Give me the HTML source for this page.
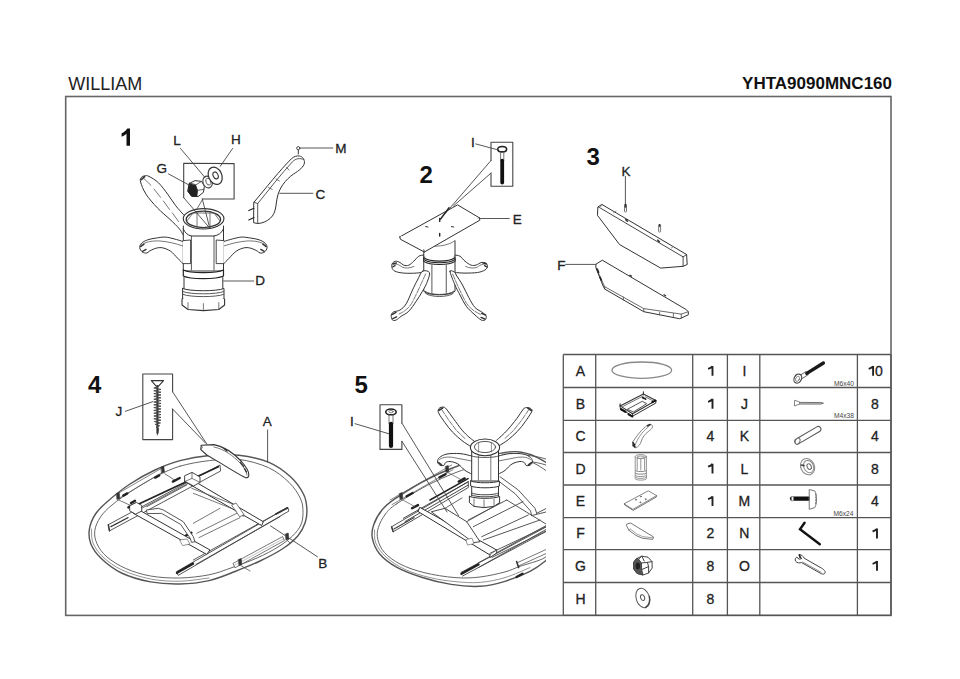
<!DOCTYPE html>
<html><head><meta charset="utf-8">
<style>
html,body{margin:0;padding:0;background:#fff;}
body{width:960px;height:679px;position:relative;overflow:hidden;font-family:"Liberation Sans",sans-serif;color:#1a1a1a;}
.t{position:absolute;white-space:nowrap;line-height:1;}
#title{left:68.2px;top:74.6px;font-size:18px;color:#222;}
#code{right:68px;top:75.2px;font-size:17px;font-weight:bold;color:#111;}
svg{position:absolute;left:0;top:0;}
</style></head><body>
<div class="t" id="title">WILLIAM</div>
<div class="t" id="code">YHTA9090MNC160</div>
<svg width="960" height="679" viewBox="0 0 960 679" font-family="Liberation Sans, sans-serif">
<rect x="65.7" y="96.5" width="825.3" height="518.9" fill="none" stroke="#666" stroke-width="1.6"/>

<g id="table" stroke="#555" stroke-width="1.3" fill="none">
<line x1="563.3" y1="354.5" x2="891.0" y2="354.5"/>
<line x1="563.3" y1="387.5" x2="891.0" y2="387.5"/>
<line x1="563.3" y1="420.3" x2="891.0" y2="420.3"/>
<line x1="563.3" y1="452.5" x2="891.0" y2="452.5"/>
<line x1="563.3" y1="485.0" x2="891.0" y2="485.0"/>
<line x1="563.3" y1="517.6" x2="891.0" y2="517.6"/>
<line x1="563.3" y1="549.6" x2="891.0" y2="549.6"/>
<line x1="563.3" y1="582.5" x2="891.0" y2="582.5"/>
<line x1="563.3" y1="615.4" x2="891.0" y2="615.4"/>
<line x1="563.3" y1="354.5" x2="563.3" y2="615.4"/>
<line x1="595.7" y1="354.5" x2="595.7" y2="615.4"/>
<line x1="692.7" y1="354.5" x2="692.7" y2="615.4"/>
<line x1="727.4" y1="354.5" x2="727.4" y2="615.4"/>
<line x1="759.8" y1="354.5" x2="759.8" y2="615.4"/>
<line x1="857.4" y1="354.5" x2="857.4" y2="615.4"/>
<line x1="891.0" y1="354.5" x2="891.0" y2="615.4"/>
</g>
<g font-size="14" fill="#222" stroke="#222" stroke-width="0.3" text-anchor="middle">
<text x="580.5" y="375.8">A</text>
<path d="M712.5,375.8 L712.5,365.9 M712.5,366.2 C711.5,367.6 709.9,368.4 708.1,368.9" fill="none" stroke="#222" stroke-width="1.9" stroke-linecap="butt"/>
<text x="744.4" y="375.8">I</text>
<path d="M873.1,375.8 L873.1,365.9 M873.1,366.2 C872.1,367.6 870.5,368.4 868.7,368.9" fill="none" stroke="#222" stroke-width="1.9" stroke-linecap="butt"/>
<text x="878.9" y="375.8">0</text>
<text x="580.5" y="408.7">B</text>
<path d="M712.5,408.7 L712.5,398.8 M712.5,399.1 C711.5,400.5 709.9,401.3 708.1,401.8" fill="none" stroke="#222" stroke-width="1.9" stroke-linecap="butt"/>
<text x="744.4" y="408.7">J</text>
<text x="875.0" y="408.7">8</text>
<text x="580.5" y="441.2">C</text>
<text x="710.5" y="441.2">4</text>
<text x="744.4" y="441.2">K</text>
<text x="875.0" y="441.2">4</text>
<text x="580.5" y="473.6">D</text>
<path d="M712.5,473.6 L712.5,463.7 M712.5,463.9 C711.5,465.4 709.9,466.2 708.1,466.7" fill="none" stroke="#222" stroke-width="1.9" stroke-linecap="butt"/>
<text x="744.4" y="473.6">L</text>
<text x="875.0" y="473.6">8</text>
<text x="580.5" y="506.1">E</text>
<path d="M712.5,506.1 L712.5,496.2 M712.5,496.5 C711.5,497.9 709.9,498.7 708.1,499.2" fill="none" stroke="#222" stroke-width="1.9" stroke-linecap="butt"/>
<text x="744.4" y="506.1">M</text>
<text x="875.0" y="506.1">4</text>
<text x="580.5" y="538.4">F</text>
<text x="710.5" y="538.4">2</text>
<text x="744.4" y="538.4">N</text>
<path d="M877.0,538.4 L877.0,528.5 M877.0,528.8 C876.0,530.2 874.4,531.0 872.6,531.5" fill="none" stroke="#222" stroke-width="1.9" stroke-linecap="butt"/>
<text x="580.5" y="570.8">G</text>
<text x="710.5" y="570.8">8</text>
<text x="744.4" y="570.8">O</text>
<path d="M877.0,570.8 L877.0,560.9 M877.0,561.2 C876.0,562.6 874.4,563.4 872.6,563.9" fill="none" stroke="#222" stroke-width="1.9" stroke-linecap="butt"/>
<text x="580.5" y="603.8">H</text>
<text x="710.5" y="603.8">8</text>
</g>
<g id="icons" fill="none" stroke-linejoin="round" stroke-linecap="round">
<!-- A tabletop -->
<ellipse cx="641.8" cy="370.2" rx="29.8" ry="8.2" stroke="#888" stroke-width="1.3"/>
<!-- B frame -->
<g stroke="#333" stroke-width="1.1">
<path d="M620.1,405.9 L643.4,394 L655.9,400.5 L632.6,413.8 Z" fill="#fff"/>
<path d="M620.1,405.9 L620.3,408.4 L632.6,416.2 L655.9,403 L655.9,400.5 M632.6,413.8 L632.6,416.2" fill="none" stroke-width="1"/>
<path d="M627.7,409.1 L642.3,401.3 L646.7,403.7 L633.7,411.8 Z" fill="#fff" stroke="#444" stroke-width="0.9"/>
<path d="M622.6,406.6 L643.6,395.8 M645.4,396.8 L653.6,401.2" fill="none" stroke="#555" stroke-width="0.8"/>
<path d="M643.4,394 L643.4,391.8 M620.1,405.9 L620.1,403.8" stroke-width="1.1"/>
<path d="M621,409.2 L625.4,411.8" stroke="#111" stroke-width="2.2"/>
<path d="M628.6,414.4 L632.2,416.4" stroke="#111" stroke-width="2.2"/>
<path d="M652.2,402.2 L655.4,400.6" stroke="#111" stroke-width="2"/>
<path d="M642.6,397.6 L645.6,399" stroke="#222" stroke-width="1.8"/>
</g>
<!-- C leg -->
<g stroke="#777" stroke-width="0.9">
<path d="M633,441.6 C636,437 640.2,431 645.6,426.6 C648,424.6 651,423.8 652.4,425.6 C653.2,427.6 651,429.6 648.2,431.6 C645,434 642.4,437.4 641.4,441 C640.6,444.2 638.2,447 635.6,447.8 L633,446.4 Z" fill="#fff"/>
<path d="M634.6,446.8 C635.6,443 638.5,437.2 642,433.2 C644.2,430.4 647,428.2 649.8,425.2" stroke-width="0.8"/>
<path d="M633,442.6 L634.4,444.6 M633.2,445 L635,447" stroke="#222" stroke-width="1.6"/>
<path d="M647.5,425.8 L650.2,424.6" stroke="#333" stroke-width="1.6"/>
</g>
<!-- D column -->
<g stroke="#888" stroke-width="0.9">
<path d="M635.2,456.6 L635.2,478.6 C635.2,480.6 646.4,480.6 646.4,478.6 L646.4,456.6" fill="#fff"/>
<ellipse cx="640.8" cy="456.6" rx="5.6" ry="2" fill="#fff"/>
<ellipse cx="640.8" cy="457.2" rx="3.8" ry="1.2"/>
<path d="M637.2,458.6 L637.2,470 M644.6,458.6 L644.6,470 M640.8,459 L640.8,470"/>
<path d="M635.2,470.6 C635.2,472 646.4,472 646.4,470.6 M635.2,473.2 C635.2,474.6 646.4,474.6 646.4,473.2" stroke="#777"/>
<path d="M635.4,475.6 C635.4,477 646.2,477 646.2,475.6 M635.4,477.4 C635.4,478.8 646.2,478.8 646.2,477.4" stroke="#888"/>
</g>
<!-- E plate -->
<g stroke="#777" stroke-width="0.9">
<path d="M624.4,503.6 L648.3,490.8 L656.6,495.6 L633.2,509.2 Z" fill="#fff"/>
<path d="M624.4,503.6 L624.5,504.8 L633.2,510.4 L656.6,496.8 L656.6,495.6" stroke="#666"/>
<circle cx="635.9" cy="499.7" r="0.5" fill="#555"/><circle cx="640.8" cy="496.6" r="0.5" fill="#555"/>
<circle cx="645.6" cy="499.2" r="0.5" fill="#555"/><circle cx="640.3" cy="502.3" r="0.5" fill="#555"/>
</g>
<!-- F bracket -->
<g stroke="#666" stroke-width="0.9">
<path d="M627,524.1 L630.6,523 L653.6,537 L652.7,539.4 L642.1,538.2 L635.9,535.4 L628.8,530.2 L626.6,525.8 Z" fill="#fff"/>
<path d="M628.8,530.2 L630,528.8 L636.6,533.8 L642.6,536.6 L652.6,537.8" stroke="#777" stroke-width="0.7"/>
</g>
<!-- G nut -->
<g stroke="#444" stroke-width="1">
<path d="M636.6,558.6 L641.8,556.2 L648,557.2 L652,561.6 L652.2,568 L648.6,573 L643,575 L637,573.4 L633.8,569 L633.6,562.6 Z" fill="#fff"/>
<path d="M636.6,558.6 L633.6,562.6 L633.8,569 L637,573.4 L643,575 L641.6,569.6 L641.4,563 L638.6,559.2 Z" fill="#555"/>
<path d="M641.4,563 L647.4,562.4 L648.6,566.6 M641.6,569.6 L648.6,566.6 L648.6,573 M647.4,562.4 L652,561.6 M641.8,556.2 L644.2,561 M638.6,559.2 L641.8,556.2"/>
<ellipse cx="637.8" cy="566" rx="2.2" ry="3.4" fill="#222" stroke="none"/>
</g>
<!-- H washer -->
<g stroke="#555" stroke-width="1">
<ellipse cx="642.8" cy="598" rx="6.6" ry="10" transform="rotate(-18 642.8 598)" fill="#fff"/>
<ellipse cx="642.6" cy="597.6" rx="2" ry="3" transform="rotate(-18 642.6 597.6)"/>
<path d="M645.6,607.4 C648.5,605.5 650.2,601 649.4,596.4" stroke-width="1.4" stroke="#444"/>
</g>
<!-- I bolt -->
<g>
<path d="M800.6,377.2 L807.6,372.8" stroke="#666" stroke-width="4.6" stroke-linecap="butt"/>
<path d="M800.6,377.2 L807.6,372.8" stroke="#fff" stroke-width="2.8" stroke-linecap="butt"/>
<path d="M806.8,373.4 L823.4,363" stroke="#1a1a1a" stroke-width="3.4"/>
<ellipse cx="797.8" cy="378.6" rx="3.6" ry="4.8" transform="rotate(28 797.8 378.6)" fill="#fff" stroke="#444" stroke-width="1.2"/>
<ellipse cx="797.6" cy="378.8" rx="1.8" ry="2.8" transform="rotate(28 797.6 378.8)" fill="none" stroke="#777" stroke-width="0.8"/>
</g>
<!-- J screw -->
<g fill="none">
<path d="M794.6,400.6 L794.4,406 L799.6,404 L799.6,402.4 Z" fill="#fff" stroke="#777" stroke-width="0.9"/>
<path d="M799.6,402.4 L821,402.6 L823.4,403.2 L821,404 L799.6,404" fill="#fff" stroke="#555" stroke-width="0.9"/>
<path d="M801,403.2 L821,403.2" stroke="#999" stroke-width="0.8" stroke-dasharray="0.8 0.8"/>
</g>
<!-- K dowel -->
<g>
<path d="M797.5,441.3 L818.2,429.2" stroke="#555" stroke-width="6.4" stroke-linecap="round"/>
<path d="M797.5,441.3 L818.2,429.2" stroke="#fff" stroke-width="4.4" stroke-linecap="round"/>
<ellipse cx="797.6" cy="441.2" rx="2.2" ry="3.2" transform="rotate(30 797.6 441.2)" fill="#fff" stroke="#666" stroke-width="0.9"/>
</g>
<!-- L washer/nut -->
<g stroke="#888" stroke-width="1">
<ellipse cx="807.6" cy="466.6" rx="6.8" ry="8.4" transform="rotate(-25 807.6 466.6)" fill="#fff"/>
<ellipse cx="808.6" cy="466.6" rx="4.8" ry="6.4" transform="rotate(-25 808.6 466.6)"/>
<ellipse cx="809.2" cy="466.6" rx="2" ry="3" transform="rotate(-25 809.2 466.6)" stroke="#666"/>
<path d="M801.4,465 L804,465.6" stroke="#444" stroke-width="1.6"/>
</g>
<!-- M bolt -->
<g>
<path d="M792,498.6 L809.6,498.6" stroke="#111" stroke-width="4.4"/>
<path d="M791.6,496.6 L793.4,496.6 L793.4,500.8 L791.6,500.8 Z" fill="#fff" stroke="#888" stroke-width="0.7"/>
<path d="M809.6,489.6 L814.8,491 C816.8,494 817.4,503 814.8,507.6 L809.6,509.2 Z" fill="#fff" stroke="#777" stroke-width="1"/>
<path d="M815.8,494 L815.8,504" stroke="#666" stroke-width="1" stroke-dasharray="1.2 1.6"/>
</g>
<!-- N allen key -->
<path d="M804.6,522.8 L800,529.2 L819.8,544.2" fill="none" stroke="#111" stroke-width="2.4" stroke-linejoin="miter" stroke-linecap="round"/>
<!-- O wrench -->
<g stroke="#444" stroke-width="1">
<path d="M799.5,556.2 L799.2,554.8 C801.8,554.6 803,556 804.2,558.2 L821.6,568.2 C825,570.2 826,572.4 824.6,573.6 C823.4,574.6 821.8,574 820,573 L801.6,562.6 C799.6,563.2 796.8,563 795.6,561.2 C794.6,559.6 795.6,557.6 796.8,557.2 L799.2,559.2 L801.6,558.6 Z" fill="#fff"/>
<path d="M802.8,562 L821,572.2" stroke="#777" stroke-width="0.8"/>
<path d="M799.4,554.8 L800.2,557.4" stroke="#222" stroke-width="1.6"/>
</g>
<!-- size labels -->
<g font-size="6.6" fill="#444" text-anchor="end">
<text x="854" y="385.6" textLength="20" lengthAdjust="spacingAndGlyphs">M6x40</text>
<text x="854" y="418" textLength="20" lengthAdjust="spacingAndGlyphs">M4x38</text>
<text x="853.4" y="515.8" textLength="20" lengthAdjust="spacingAndGlyphs">M6x24</text>
</g>
</g>

<g id="step1" fill="none" stroke-linecap="round" stroke-linejoin="round">
<path d="M184.0,236.0 C183.8,235.6 183.3,235.1 182.5,233.8 C181.7,232.6 181.2,230.9 179.1,228.5 C177.0,226.1 173.6,222.8 170.0,219.4 C166.4,216.0 161.4,212.1 157.4,207.9 C153.4,203.7 148.8,198.5 146.0,194.2 C143.2,189.9 141.4,184.8 140.6,182.0 C139.8,179.2 140.5,178.6 141.2,177.6 C141.9,176.6 143.3,176.0 144.6,175.8 C145.9,175.6 146.7,175.2 149.0,176.4 C151.3,177.6 155.4,179.8 158.5,182.8 C161.6,185.8 164.8,190.4 167.7,194.2 C170.6,198.0 173.0,202.3 175.7,205.7 C178.4,209.1 181.8,212.8 183.7,214.8 C185.6,216.9 186.4,217.5 187.0,218.0" fill="#fff" stroke="#333" stroke-width="1"/>
<path d="M144,178.6 L151,185.4 M154,189 L160.6,197.4 M163.4,201 L169.6,209.6 M172.4,213 L178.6,221.6" stroke="#555" stroke-width="0.8"/>
<path d="M141.4,179.6 L144.6,176.6" stroke="#333" stroke-width="1.6"/>
<path d="M183.0,241.5 C181.5,241.1 177.1,239.6 174.2,238.9 C171.2,238.2 168.2,237.2 165.3,237.1 C162.4,236.9 159.4,237.6 156.5,238.0 C153.6,238.4 150.2,238.9 147.7,239.8 C145.2,240.7 142.8,242.0 141.5,243.3 C140.2,244.6 139.5,246.2 139.7,247.7 C139.8,249.2 141.2,251.2 142.4,252.1 C143.6,253.0 145.6,253.2 146.8,253.0 C148.0,252.8 148.1,251.9 149.4,251.2 C150.7,250.5 152.6,249.2 154.7,248.6 C156.8,248.0 159.2,247.3 161.8,247.7 C164.5,248.1 167.9,249.4 170.6,251.2 C173.2,253.0 175.6,256.2 177.7,258.3 C179.8,260.4 182.1,262.7 183.0,263.6" fill="#fff" stroke="#333" stroke-width="1"/>
<path d="M141,245 C146,241.6 153,240.6 160,241 C168,241.6 176,243.6 183,246" stroke="#555" stroke-width="0.8"/>
<path d="M140.6,246.6 L144,244.2 M142.6,251.4 L146,249.4" stroke="#333" stroke-width="1.4"/>
<path d="M223.8,241.5 C225.3,241.1 229.7,239.6 232.6,238.9 C235.6,238.2 238.6,237.2 241.5,237.1 C244.4,236.9 247.4,237.6 250.3,238.0 C253.2,238.4 256.6,238.9 259.1,239.8 C261.6,240.7 264.0,242.0 265.3,243.3 C266.6,244.6 267.2,246.2 267.1,247.7 C267.0,249.2 265.6,251.2 264.4,252.1 C263.2,253.0 261.2,253.2 260.0,253.0 C258.8,252.8 258.7,251.9 257.4,251.2 C256.1,250.5 254.2,249.2 252.1,248.6 C250.0,248.0 247.7,247.3 245.0,247.7 C242.3,248.1 238.9,249.4 236.2,251.2 C233.6,253.0 231.2,256.2 229.1,258.3 C227.0,260.4 224.7,262.7 223.8,263.6" fill="#fff" stroke="#333" stroke-width="1"/>
<path d="M265.8,245 C260.8,241.6 253.8,240.6 246.8,241 C238.8,241.6 230.8,243.6 223.8,246" stroke="#555" stroke-width="0.8"/>
<path d="M266.2,246.6 L262.8,244.2 M264.2,251.4 L260.8,249.4" stroke="#333" stroke-width="1.4"/>
<path d="M183.3,226 L183.3,271 L223.5,271 L223.5,226" fill="#fff" stroke="#333" stroke-width="1"/>
<path d="M191.4,236 L191.4,270 M214,236 L214,270" stroke="#444" stroke-width="0.9"/>
<path d="M183.3,229 C185,233 188,235.4 191.4,236 L214,236 C218,235.4 221.8,233 223.5,229" fill="none" stroke="#333" stroke-width="1"/>
<path d="M183,240.6 L190.6,240 L190.6,263.6 L183,263.6" fill="#fff" stroke="#333" stroke-width="0.9"/>
<path d="M223.8,240.6 L216.2,240 L216.2,263.6 L223.8,263.6" fill="#fff" stroke="#333" stroke-width="0.9"/>
<ellipse cx="203.6" cy="218.8" rx="20.3" ry="10.2" fill="#fff" stroke="#333" stroke-width="1.1"/>
<ellipse cx="203.4" cy="219.4" rx="17.2" ry="8.2" fill="#fff" stroke="#333" stroke-width="1.3"/>
<path d="M187,221 L193,213 L214,213 L220,221 M197,212 L197,228 M210,212 L210,228" fill="none" stroke="#555" stroke-width="0.8"/>
<path d="M183.3,270 L183.3,276 C190,279.5 216.5,279.5 223.5,276 L223.5,270 C216.5,273.5 190,273.5 183.3,270 Z" fill="#fff" stroke="#222" stroke-width="1.2"/>
<path d="M184,277.5 L184,288.5 M222.8,277.5 L222.8,288.5" stroke="#333" stroke-width="1"/>
<path d="M182.6,288.5 L182.6,299 C190,302 216.5,302 224,299 L224,288.5 C216.5,291.5 190,291.5 182.6,288.5 Z" fill="#fff" stroke="#333" stroke-width="1"/>
<path d="M183,291.6 C190,294.6 216.5,294.6 223.6,291.6 M183,294.4 C190,297.4 216.5,297.4 223.6,294.4" fill="none" stroke="#444" stroke-width="0.9"/>
<path d="M182,299 L182,305 L188,309.5 L203.4,310.6 L218.8,309.5 L224.6,305 L224.6,299" fill="#fff" stroke="#333" stroke-width="1.1"/>
<path d="M188,302.6 L188,309.4 M203.4,303.6 L203.4,310.4 M218.8,302.6 L218.8,309.4" stroke="#555" stroke-width="0.8"/>
<path d="M183.7,197.6 L183.7,163.3 L234.1,163.6 L234.1,199 L202.3,199" fill="none" stroke="#444" stroke-width="1.1"/>
<path d="M183.7,197.6 L209.8,228.2 M202.3,199 L209.8,228.2" stroke="#444" stroke-width="0.9"/>
<path d="M196.5,209.7 L202.6,199.4" stroke="#444" stroke-width="0.8"/>
<path d="M189.4,183.4 L195,180.6 L201.6,181.4 L204.4,186.2 L203.4,192.4 L198,196.6 L191.6,196.2 L188,191.4 Z" fill="#fff" stroke="#333" stroke-width="1"/>
<path d="M189.4,183.4 L188,191.4 L191.6,196.2 L196.8,196.6 L197.6,190.4 L195.6,185 Z" fill="#222" stroke="#222" stroke-width="0.8"/>
<path d="M195.6,185 L201.6,181.4 M197.6,190.4 L204,189.2 M197,196.4 L198,196.6" stroke="#444" stroke-width="0.8"/>
<ellipse cx="207.6" cy="182" rx="4.6" ry="6" transform="rotate(-20 207.6 182)" fill="#fff" stroke="#444" stroke-width="1.1"/>
<ellipse cx="208.4" cy="181.6" rx="2.4" ry="3.6" transform="rotate(-20 208.4 181.6)" fill="none" stroke="#555" stroke-width="0.9"/>
<ellipse cx="215.2" cy="175.8" rx="6.6" ry="9" transform="rotate(-25 215.2 175.8)" fill="#fff" stroke="#333" stroke-width="1.2"/>
<ellipse cx="215.6" cy="175.4" rx="2.4" ry="3.6" transform="rotate(-25 215.6 175.4)" fill="none" stroke="#333" stroke-width="1.1"/>
<path d="M180.5,148.5 L205,177.5 M232.6,148.5 L220.2,166.4 M168.5,173.9 L189.7,185.4 M223.6,281 L253.7,281" stroke="#444" stroke-width="0.9"/>
<path d="M254,202.2 C266,188 280,170 291.5,158.7 C294,156.4 297,155.6 299.4,156 C302.6,156.6 304.8,159.4 304.4,163 C303.8,167 299,170.6 293.6,174 C285,180 279.6,188 277.6,196 C275.6,204 276.6,212.6 270.4,218.2 C266.6,221.6 261.8,223.4 257.7,223.5 L254,222.8 Z" fill="#fff" stroke="#333" stroke-width="1"/>
<path d="M254,202.2 L257.7,203.6 L257.7,223.5 M257.7,203.6 C268,191 281,174 292.6,161.6 C295.6,158.6 300,157.6 303.6,159.6" fill="none" stroke="#444" stroke-width="0.9"/>
<path d="M268.6,187.6 L272.2,189.4 M276,179 L279.4,181 M286.6,167.6 L289.2,170" stroke="#555" stroke-width="0.8"/>
<path d="M248.8,210.6 L254,208.2 M248.8,220 L254,217.6" stroke="#222" stroke-width="1.1"/>
<path d="M279.8,193.3 L312.9,193.3" stroke="#444" stroke-width="0.9"/>
<path d="M298.3,150.4 L298.3,154" stroke="#333" stroke-width="1"/>
<circle cx="298.3" cy="148.2" r="1.6" fill="#fff" stroke="#333" stroke-width="0.9"/>
<path d="M300.6,148 L332.8,148" stroke="#444" stroke-width="0.9"/>
<g font-size="13.5" fill="#222" stroke="#222" stroke-width="0.3"><text x="173.2" y="145">L</text><text x="231" y="144.2">H</text><text x="156.5" y="172.7">G</text><text x="335.2" y="153.3">M</text><text x="315.6" y="198.8">C</text><text x="255.2" y="284.7">D</text></g>
<path d="M130,128.4 L130,145.8 L126.5,145.8 L126.5,133.8 C125,135.2 123.4,136.2 121.6,136.8 L121.6,133.3 C124,132.3 126,130.5 127.3,128.4 Z" fill="#111"/>
</g>
<g id="step2" fill="none" stroke-linecap="round" stroke-linejoin="round">
<path d="M423.8,255.0 C422.9,255.2 420.4,255.2 418.8,256.2 C417.1,257.3 415.4,259.8 413.8,261.2 C412.1,262.7 410.4,264.5 408.8,265.2 C407.1,265.9 405.2,265.6 403.8,265.2 C402.3,264.8 401.4,263.2 400.0,262.5 C398.6,261.8 396.9,261.1 395.6,261.2 C394.4,261.4 393.1,262.1 392.5,263.1 C391.9,264.1 391.5,266.1 391.9,267.5 C392.3,268.9 393.0,270.3 395.0,271.2 C397.0,272.2 400.2,272.8 403.8,273.1 C407.3,273.4 412.9,273.3 416.2,273.1 C419.6,272.9 422.5,272.1 423.8,271.9" fill="#fff" stroke="#333" stroke-width="1"/>
<path d="M393,264.6 C396,263.4 399,264.6 402,267 C405,268.6 410,268.4 414,266.4" stroke="#555" stroke-width="0.8"/>
<path d="M393,263.6 L396.4,263 M392.6,267 L395,265.6" stroke="#333" stroke-width="1.4"/>
<path d="M455.0,255.0 C455.8,255.2 458.3,255.2 460.0,256.2 C461.7,257.3 463.1,259.8 465.0,261.2 C466.9,262.7 469.4,264.6 471.2,265.2 C473.1,265.8 474.6,265.4 476.2,265.0 C477.9,264.6 479.7,262.8 481.2,262.5 C482.8,262.2 484.6,262.5 485.6,263.1 C486.6,263.7 487.6,265.1 487.5,266.2 C487.4,267.4 486.7,269.0 485.0,270.0 C483.3,271.0 480.8,272.0 477.5,272.5 C474.2,273.0 468.8,273.1 465.0,273.1 C461.2,273.1 456.7,272.6 455.0,272.5" fill="#fff" stroke="#333" stroke-width="1"/>
<path d="M486.6,264.6 C483.6,263.4 480.6,264.6 477.6,267 C474.6,268.6 469.6,268.4 465.6,266.4" stroke="#555" stroke-width="0.8"/>
<path d="M486.4,263.6 L483,263 M487,267 L484.6,265.6" stroke="#333" stroke-width="1.4"/>
<path d="M423.75,258 L423.75,291.25 C428,296 450,296 455,291.25 L455,258" fill="#fff" stroke="#333" stroke-width="1"/>
<path d="M431.9,265 L431.9,292.5 M446.25,265 L446.25,292.5" stroke="#444" stroke-width="0.9"/>
<path d="M425,291.25 C430,295.6 449,295.6 453.75,291.25 M425.6,293.4 C431,297.6 448,297.6 453.2,293.4" fill="none" stroke="#444" stroke-width="0.9"/>
<path d="M422.5,271.2 C420.5,272.5 419.2,276.9 417.5,280.0 C415.8,283.1 414.4,286.0 412.5,290.0 C410.6,294.0 408.3,300.4 406.2,303.8 C404.2,307.1 402.1,308.6 400.0,310.0 C397.9,311.4 395.2,311.1 393.8,311.9 C392.3,312.7 391.5,313.6 391.2,315.0 C391.0,316.4 391.7,319.2 392.5,320.0 C393.3,320.8 394.8,320.6 396.2,320.0 C397.7,319.4 399.2,317.7 401.2,316.2 C403.3,314.8 406.2,313.8 408.8,311.2 C411.2,308.8 414.0,304.6 416.2,301.2 C418.5,297.9 420.6,294.6 422.5,291.2 C424.4,287.9 426.4,284.4 427.5,281.2 C428.6,278.1 430.2,274.2 429.4,272.5 C428.6,270.8 424.5,270.0 422.5,271.2Z" fill="#fff" stroke="#333" stroke-width="1"/>
<path d="M425.6,274 C422,282 418,291 413,301 C410,307 405,311.5 399,314" stroke="#555" stroke-width="0.8" stroke-dasharray="6 1.4"/>
<path d="M392,314.6 L396,312.4 M392.8,318.6 L396.6,316.8" stroke="#333" stroke-width="1.4"/>
<path d="M450.0,271.2 C450.0,269.2 454.0,271.9 455.0,272.5 C456.0,273.1 455.0,272.9 456.2,275.0 C457.5,277.1 460.4,281.2 462.5,285.0 C464.6,288.8 466.7,293.8 468.8,297.5 C470.8,301.2 472.7,305.0 475.0,307.5 C477.3,310.0 480.6,311.0 482.5,312.5 C484.4,314.0 485.8,315.0 486.2,316.2 C486.7,317.5 485.8,319.4 485.0,320.0 C484.2,320.6 482.9,320.8 481.2,320.0 C479.6,319.2 477.5,317.3 475.0,315.0 C472.5,312.7 468.8,309.6 466.2,306.2 C463.8,302.9 461.9,298.5 460.0,295.0 C458.1,291.5 456.7,289.0 455.0,285.0 C453.3,281.0 450.0,273.3 450.0,271.2Z" fill="#fff" stroke="#333" stroke-width="1"/>
<path d="M452.6,274 C456,282 460,291 464.6,300 C468,307 474,311.5 481,314.6" stroke="#555" stroke-width="0.8" stroke-dasharray="6 1.4"/>
<path d="M485.6,315 L481.6,313.4 M484.8,319 L481,317.4" stroke="#333" stroke-width="1.4"/>
<path d="M423.75,247 L423.75,256 C430,261 449,261 455,256 L455,241" fill="#fff" stroke="#333" stroke-width="1"/>
<path d="M423.75,256.2 L423.75,261.4 C430,265.6 449,265.6 455,261.4 L455,256.2" fill="#fff" stroke="#222" stroke-width="1.1"/>
<path d="M424,257.8 C430,262.2 449,262.2 454.8,257.8 M424,259.6 C430,263.8 449,263.8 454.8,259.6" fill="none" stroke="#222" stroke-width="1.1"/>
<path d="M426,244.6 C432,248 449,246 455,240.6" fill="none" stroke="#555" stroke-width="0.8"/>
<path d="M399.9,236.8 L457.6,204.9 L479.5,217.9 L423.8,249.7 Z" fill="#fff" stroke="#333" stroke-width="1"/>
<path d="M399.9,236.8 L400.3,239.2 L424.4,252 L479.8,220.2 L479.5,217.9" fill="#fff" stroke="#333" stroke-width="1"/>
<path d="M423.8,249.7 L424.4,252" stroke="#333" stroke-width="0.9"/>
<path d="M425.6,226.6 L428,227 M451.4,226.6 L453.8,227" stroke="#333" stroke-width="1"/>
<path d="M439.7,218.4 L439.7,221.4 M439.7,233.4 L439.7,236" stroke="#222" stroke-width="1.4"/>
<path d="M491,160.5 L491,142.2 L512.8,142.2 L512.8,186.3 L491,186.3 L491,173.1" fill="none" stroke="#444" stroke-width="1.1"/>
<path d="M491,160.5 L440,219.6 M491,173.1 L453.6,205.8" stroke="#444" stroke-width="0.9"/>
<path d="M449,207.6 L440.6,219" stroke="#222" stroke-width="1.3"/>
<ellipse cx="502.2" cy="149.2" rx="4.4" ry="2.7" fill="#fff" stroke="#222" stroke-width="1.6"/>
<path d="M500.6,152 L500.6,160.5 M503.8,152 L503.8,160.5" stroke="#555" stroke-width="0.8"/>
<path d="M502.2,160.6 L502.2,182.6" stroke="#111" stroke-width="3.8"/>
<path d="M475.7,143.9 L497.6,149.8" stroke="#444" stroke-width="0.9"/>
<path d="M480,218.5 L509.3,218.5" stroke="#444" stroke-width="0.9"/>
<g font-size="13.5" fill="#222" stroke="#222" stroke-width="0.3"><text x="471.1" y="146.9">I</text><text x="512.7" y="223.6">E</text></g>
<text x="419.4" y="183" font-size="24" font-weight="bold" fill="#111">2</text>
</g>
<g id="step3" fill="none" stroke-linecap="round" stroke-linejoin="round">
<path d="M598.2,206.8 L601.8,204.4 L686.6,254.5 L687.2,264.5 L683.1,266.3 L660.7,268.1 L619.5,244.5 L597.7,215.6 Z" fill="#fff" stroke="#333" stroke-width="1"/>
<path d="M598.2,206.8 L683.1,256.9 L686.6,254.5 M683.1,256.9 L683.1,266.3" fill="none" stroke="#333" stroke-width="0.9"/>
<path d="M599.6,207 L602.4,205.2 M613.6,212.7 L616,211 M671.3,248 L673.6,246.4" stroke="#777" stroke-width="0.8"/>
<path d="M625.8,219.6 L627.4,221.2 M657.8,240.2 L659.4,241.8" stroke="#333" stroke-width="1.6"/>
<path d="M625.4,176.4 L625.4,204.2" stroke="#444" stroke-width="0.9"/>
<rect x="624.5" y="204.4" width="2" height="7.6" rx="0.8" fill="#fff" stroke="#555" stroke-width="0.8"/>
<path d="M625.5,204.6 L625.5,207" stroke="#333" stroke-width="1.6"/>
<rect x="658.6" y="224.5" width="2" height="7.6" rx="0.8" fill="#fff" stroke="#555" stroke-width="0.8"/>
<path d="M659.6,224.6 L659.6,226.2" stroke="#333" stroke-width="1.4"/>
<path d="M596.1,264.1 L602.3,260.2 L685.9,309.4 L688.3,311.7 L688.3,314.8 L679.7,318.75 L643.75,311.7 L604.7,289 L603.1,286 L596.9,270.3 L596.1,268 Z" fill="#fff" stroke="#333" stroke-width="1"/>
<path d="M596.1,268 L604.7,286.7 L643.75,308.6 L681.3,314.1 L688.3,311.7 M604.7,286.7 L604.7,289 M643.75,308.6 L643.75,311.7 M681.3,314.1 L681.3,318.2" fill="none" stroke="#444" stroke-width="0.8"/>
<path d="M623.4,297 L623.4,300 M659.6,312.2 L659.6,315 M673.4,313.4 L673.4,316.6" stroke="#555" stroke-width="0.8"/>
<path d="M597.2,269 L598.6,272.4 M600,277.2 L601.2,280" stroke="#222" stroke-width="1.6"/>
<path d="M629.8,275.4 L631.4,276.2 M664,294.8 L665.6,295.8" stroke="#333" stroke-width="1.3"/>
<path d="M565.6,264.4 L596.1,264.4" stroke="#444" stroke-width="0.9"/>
<g font-size="13.5" fill="#222" stroke="#222" stroke-width="0.3"><text x="621.5" y="175.7">K</text><text x="557.2" y="269.8">F</text></g>
<text x="586.5" y="165.4" font-size="24" font-weight="bold" fill="#111">3</text>
</g>
<g id="step4" fill="none" stroke-linecap="round" stroke-linejoin="round">
<path d="M180.0,460.6 C189.1,458.2 199.7,456.4 209.5,455.5 C219.3,454.6 229.1,454.2 238.9,455.3 C248.7,456.4 259.8,458.5 268.4,462.1 C277.0,465.7 284.6,471.4 290.5,476.8 C296.4,482.2 301.0,489.1 303.7,494.5 C306.4,499.9 306.6,504.5 306.9,509.2 C307.1,513.9 306.7,518.1 305.2,522.5 C303.7,526.9 301.7,531.4 298.0,535.7 C294.3,540.0 289.3,544.3 283.0,548.5 C276.7,552.7 268.0,557.2 260.0,561.0 C252.0,564.8 243.5,568.2 235.0,571.5 C226.5,574.8 218.2,578.5 209.0,580.6 C199.8,582.7 189.5,583.8 179.8,584.0 C170.1,584.2 160.3,583.7 150.6,581.9 C140.9,580.1 129.8,576.9 121.5,573.0 C113.2,569.1 106.1,563.2 101.0,558.3 C95.9,553.4 92.7,548.6 90.8,543.8 C88.9,538.9 88.6,534.2 89.4,529.2 C90.2,524.2 92.4,518.7 95.5,514.0 C98.6,509.3 102.2,506.0 108.0,501.0 C113.8,496.0 122.2,489.2 130.0,484.0 C137.8,478.8 146.7,473.9 155.0,470.0 C163.3,466.1 170.9,463.0 180.0,460.6Z" fill="#fff" stroke="#555" stroke-width="1.4"/>
<path d="M180.0,466.2 C188.8,463.6 199.7,461.7 209.5,460.6 C219.3,459.5 229.1,458.2 238.9,459.4 C248.7,460.6 260.0,463.8 268.4,467.6 C276.8,471.4 283.6,477.2 289.0,482.4 C294.4,487.6 298.3,493.9 300.6,498.9 C302.9,503.9 303.0,508.2 303.0,512.6 C303.0,517.0 302.6,521.1 300.8,525.0 C299.1,528.9 296.3,532.3 292.5,536.0 C288.7,539.7 283.9,543.3 278.0,547.0 C272.1,550.7 264.7,554.6 257.0,558.0 C249.3,561.4 240.0,564.8 232.0,567.6 C224.0,570.4 217.7,573.1 209.0,574.8 C200.3,576.5 189.5,577.8 179.8,578.0 C170.1,578.2 159.6,577.6 150.6,576.0 C141.6,574.4 133.1,571.7 125.8,568.5 C118.5,565.3 111.8,561.1 107.0,557.0 C102.2,552.9 99.0,548.2 97.0,543.8 C95.0,539.4 94.2,535.1 94.8,530.6 C95.4,526.1 97.6,521.3 100.5,517.0 C103.4,512.7 106.6,509.5 112.0,505.0 C117.4,500.5 125.5,494.8 133.0,490.0 C140.5,485.2 149.2,480.0 157.0,476.0 C164.8,472.0 171.2,468.8 180.0,466.2Z" fill="none" stroke="#666" stroke-width="1"/>
<path d="M91.5,529.0 C91.8,531.3 91.1,538.3 93.0,543.0 C94.9,547.7 98.2,552.5 103.0,557.0 C107.8,561.5 114.1,566.3 122.0,570.0 C129.9,573.7 141.0,577.1 150.6,579.0 C160.2,580.9 170.1,581.4 179.8,581.2 C189.5,581.0 204.1,578.5 209.0,578.0" fill="none" stroke="#777" stroke-width="0.8"/>
<path d="M115.6,494.8 L162.5,467.7 M118.5,498.6 L164,471.4" stroke="#666" stroke-width="0.8" fill="none"/>
<path d="M233.3,563.3 L282.6,536.6 L284.4,540.6 L235.4,567.6 Z" stroke="#555" stroke-width="0.8" fill="#fff"/>
<path d="M234,565.6 L283.4,538.8" stroke="#999" stroke-width="0.6" fill="none"/>
<path d="M116.5,493.5 L119.2,492.5 L119.8,498.4 L117.2,499.4 Z" fill="#333" stroke="#333" stroke-width="0.6"/>
<path d="M161.1,467.1 L163.79999999999998,466.1 L164.4,472.0 L161.79999999999998,473.0 Z" fill="#333" stroke="#333" stroke-width="0.6"/>
<path d="M238.5,559.5 L241.2,558.5 L241.8,564.4 L239.2,565.4 Z" fill="#333" stroke="#333" stroke-width="0.6"/>
<path d="M285.5,534.0 L288.2,533.0 L288.8,538.9 L286.2,539.9 Z" fill="#333" stroke="#333" stroke-width="0.6"/>
<path d="M123.3,495.6 L127.3,493.40000000000003" stroke="#222" stroke-width="2.4" stroke-linecap="round"/>
<path d="M155.2,477.6 L159.2,475.40000000000003" stroke="#222" stroke-width="2.4" stroke-linecap="round"/>
<path d="M131,503 L135,500.8" stroke="#222" stroke-width="2.4" stroke-linecap="round"/>
<path d="M118.7,500 L130.9,505.6 M164.7,473.7 L175,480.3 M240,565 L250,571 M287,540 L290,543" stroke="#555" stroke-width="0.8" fill="none"/>
<path d="M128.4,507.40000000000003 L135.20000000000002,503.8" stroke="#222" stroke-width="2.4" stroke-linecap="round"/>
<path d="M172.9,481.6 L179.70000000000002,478.0" stroke="#222" stroke-width="2.4" stroke-linecap="round"/>
<path d="M257.1,525.5999999999999 L263.9,522.0" stroke="#222" stroke-width="2.4" stroke-linecap="round"/>
<path d="M184.6,536.3 L191.4,532.7" stroke="#222" stroke-width="2.4" stroke-linecap="round"/>
<path d="M108.4,524.6 L220,465 L220.6,471 L109.6,530.8 Z" fill="#fff" stroke="#444" stroke-width="0.9"/>
<path d="M136.7,505 L218.3,466.7" stroke="#222" stroke-width="1.8"/>
<path d="M141.7,508.3 L188.3,483.3 M146.7,506.7 L186.7,485" stroke="#444" stroke-width="0.8"/>
<path d="M111,526.6 L128,517.6" stroke="#333" stroke-width="1.3" stroke-dasharray="1.4 1"/>
<path d="M108.4,524.6 L109.6,530.8" stroke="#333" stroke-width="1.3"/>
<path d="M176.9,571.5 L287.6,507.4 L289,511 L178.5,575.2 Z" fill="#fff" stroke="#444" stroke-width="0.9"/>
<path d="M193.3,560 L280,511.7 M196,564.4 L280,516.7" stroke="#444" stroke-width="0.9"/>
<path d="M177,572.8 L193,563.6" stroke="#222" stroke-width="2.4"/>
<path d="M276,514 L288,507.6" stroke="#333" stroke-width="1.8" stroke-dasharray="1.5 0.8"/>
<path d="M133.3,506.7 L210,550 L206.7,554.4 L133.3,513.3 Z" fill="#fff" stroke="#333" stroke-width="1"/>
<path d="M186.7,476.7 L263.3,521.7 L261.7,525.6 L185,481.7 Z" fill="#fff" stroke="#333" stroke-width="1"/>
<path d="M185,475.6 L192,472.4 L200,477 L200,482.4 L193.6,486 L185,481.4 Z" fill="#fff" stroke="#333" stroke-width="0.9"/>
<path d="M192,472.4 L192,478.4 L185,481.4 M192,478.4 L200,482.4" fill="none" stroke="#444" stroke-width="0.7"/>
<path d="M130,505.6 L136.4,502.4 L141.7,505.4 L141.7,511 L135.6,514.2 L130,511 Z" fill="#fff" stroke="#333" stroke-width="0.9"/>
<path d="M146.7,510 L158.3,508.3 L163.3,510 L183.3,521.7 L193.3,536.7 L195,541.7 L191.6,542.4 L190,538 L180.6,524.4 L161.6,513.4 L147.6,513.6 Z" fill="#fff" stroke="#444" stroke-width="0.9"/>
<path d="M193.3,523.3 L220,508.3 M196.7,533.3 L236.7,513.3 M199,537.6 L240,517.6" fill="none" stroke="#555" stroke-width="0.8"/>
<path d="M191.7,488.3 L235,505 L243.3,516.7 M193.3,493.3 L232,508.6" fill="none" stroke="#555" stroke-width="0.8"/>
<path d="M232,505 L236,503 L244,514.6 L240,516.6 Z" fill="#fff" stroke="#555" stroke-width="0.8"/>
<path d="M180,540 L187,539 L190,544 L183,545.5 Z" fill="#fff" stroke="#666" stroke-width="0.7"/>
<path d="M201.2,445.2 L214,444.6 C224,446.5 234,453.5 241.5,461.5 C245.5,466 248.6,470.5 248.8,474.5 C249,477 247.6,478.2 245.2,477.6 C238,474 226,466.4 218,461.6 L206.8,455 L200.8,449.6 Z" fill="#fff" stroke="#333" stroke-width="1.1"/>
<path d="M201.2,445.2 L202.4,447.6 L200.8,449.6 M214,447 C224,449 233,455.6 240.4,463.4 C244,467.4 246.6,471.4 247,475" fill="none" stroke="#555" stroke-width="0.8"/>
<path d="M224,448.4 L227,451 M240.4,462.4 L243.6,466.4 M244.6,468.6 L246.4,472" stroke="#333" stroke-width="1.4"/>
<path d="M172.6,391.8 L172.6,374 L142.8,374 L142.8,439.6 L172.6,439.6 L172.6,409" fill="none" stroke="#444" stroke-width="1.1"/>
<path d="M172.6,391.8 L207.2,444.6 M172.6,409 L205.4,443" fill="none" stroke="#444" stroke-width="0.9"/>
<path d="M151.3,380.6 L163.5,380.6 L158.6,386.2 L156.2,386.2 Z" fill="#fff" stroke="#333" stroke-width="1.1"/>
<path d="M157.4,386 L157.4,433" stroke="#333" stroke-width="2"/>
<path d="M157.4,387 L153.8,388.0 L161.0,389.4 L153.8,390.8 L161.0,392.2 L153.8,393.6 L161.0,395.0 L153.8,396.4 L161.0,397.8 L153.8,399.2 L161.0,400.6 L153.8,402.0 L161.0,403.4 L153.8,404.8 L161.0,406.2 L153.8,407.6 L161.0,409.0 L153.8,410.4 L161.0,411.8 L153.8,413.2 L161.0,414.6 L153.8,416.0 L161.0,417.4 L153.8,418.8 L161.0,420.2 L154.3,421.6 L160.5,423.0 L155.1,424.4 L159.7,425.8 L156.0,427.2 L158.8,428.6 L157.4,435" fill="none" stroke="#444" stroke-width="0.9"/>
<path d="M125.4,411.3 L152.9,401.6" stroke="#444" stroke-width="0.9"/>
<path d="M267.6,430 L267.6,462" stroke="#444" stroke-width="0.9"/>
<path d="M270.7,526 L317.5,556.8" stroke="#444" stroke-width="0.9"/>
<g font-size="13.5" fill="#222" stroke="#222" stroke-width="0.3"><text x="115.4" y="416">J</text><text x="262.8" y="426.4">A</text><text x="318.2" y="567.5">B</text></g>
<text x="88" y="392.6" font-size="24" font-weight="bold" fill="#111">4</text>
</g>
<g id="step5" fill="none" stroke-linecap="round" stroke-linejoin="round">
<defs><clipPath id="c5"><rect x="340" y="390" width="206" height="220"/></clipPath></defs>
<g clip-path="url(#c5)">
<path d="M395.6,498.3 C387.6,503.6 385.9,505.2 382.2,509.7 C378.5,514.1 375.2,520.2 373.6,525.0 C372.0,529.8 371.4,533.6 372.4,538.4 C373.4,543.2 375.5,548.9 379.5,553.7 C383.5,558.5 389.4,563.1 396.5,567.1 C403.6,571.1 413.3,574.6 422.4,577.5 C431.5,580.4 441.5,582.9 451.1,584.4 C460.7,585.9 471.0,586.8 480.0,586.3 C489.0,585.8 496.7,583.8 505.0,581.3 C513.3,578.8 523.3,574.6 530.0,571.3 C536.7,568.0 539.7,565.7 545.0,561.3 C550.3,556.9 557.0,551.9 562.0,545.0 C567.0,538.1 575.3,531.7 575.0,520.0 C574.7,508.3 569.2,486.3 560.0,475.0 C550.8,463.7 535.0,454.2 520.0,452.0 C505.0,449.8 485.0,457.7 470.0,462.0 C455.0,466.3 442.4,471.9 430.0,478.0 C417.6,484.1 403.6,493.0 395.6,498.3Z" fill="#fff" stroke="#555" stroke-width="1.4"/>
<path d="M397.0,503.6 C389.2,508.8 388.6,510.0 385.5,514.0 C382.4,518.0 379.7,523.2 378.4,527.4 C377.1,531.6 376.8,535.2 377.8,539.4 C378.8,543.6 380.8,548.4 384.5,552.5 C388.2,556.6 393.4,560.6 400.0,564.0 C406.6,567.4 414.8,570.3 424.0,572.6 C433.2,574.9 445.7,576.9 455.0,577.6 C464.3,578.3 471.7,578.0 480.0,577.0 C488.3,576.0 498.3,573.7 505.0,571.9 C511.7,570.1 513.3,568.7 520.0,566.3 C526.7,563.9 538.7,561.4 545.0,557.5 C551.3,553.6 554.0,549.2 558.0,543.0 C562.0,536.8 569.3,530.5 569.0,520.0 C568.7,509.5 564.5,490.3 556.0,480.0 C547.5,469.7 532.0,460.2 518.0,458.0 C504.0,455.8 486.3,462.8 472.0,467.0 C457.7,471.2 444.5,476.9 432.0,483.0 C419.5,489.1 404.8,498.4 397.0,503.6Z" fill="none" stroke="#666" stroke-width="1"/>
<path d="M374.6,530.0 C374.8,532.2 373.9,538.5 375.8,543.0 C377.7,547.5 381.1,552.6 386.0,557.0 C390.9,561.4 397.7,566.1 405.0,569.5 C412.3,572.9 421.7,575.6 430.0,577.6 C438.3,579.6 446.7,580.8 455.0,581.6 C463.3,582.4 471.7,583.1 480.0,582.4 C488.3,581.7 496.7,580.1 505.0,577.6 C513.3,575.1 525.8,569.3 530.0,567.6" fill="none" stroke="#777" stroke-width="0.8"/>
<path d="M502.3,454.1 C520,454 535,455.5 546,459 M500,460 C520,459.5 535,461.5 546,465" stroke="#555" stroke-width="0.9" fill="none"/>
<path d="M517.8,562.5 L546,549.5 M518.5,566 L546,553.6" stroke="#555" stroke-width="0.8"/>
<path d="M516.6,561.6 L518.6,567.4" stroke="#333" stroke-width="1.6"/>
<path d="M390,500 L451.7,465 M392,504.6 L453,469.6" stroke="#666" stroke-width="0.8"/>
<path d="M399.5,493.5 L402.2,492.5 L402.8,498.4 L400.2,499.4 Z" fill="#333" stroke="#333" stroke-width="0.6"/>
<path d="M445.5,466.5 L448.2,465.5 L448.8,471.4 L446.2,472.4 Z" fill="#333" stroke="#333" stroke-width="0.6"/>
<path d="M406.6,496.20000000000005 L412.6,493.0" stroke="#222" stroke-width="2.4" stroke-linecap="round"/>
<path d="M439.5,477.40000000000003 L445.5,474.2" stroke="#222" stroke-width="2.4" stroke-linecap="round"/>
<path d="M458.7,481.6 L464.7,478.4" stroke="#222" stroke-width="2.4" stroke-linecap="round"/>
<path d="M412,508.3 L418,505.09999999999997" stroke="#222" stroke-width="2.4" stroke-linecap="round"/>
<path d="M516.5,577.0 L522.5,573.8" stroke="#222" stroke-width="2.4" stroke-linecap="round"/>
<path d="M401,499 L415,506.7 M447,472 L461.7,480" stroke="#555" stroke-width="0.7"/>
<path d="M391.7,526.7 L468.3,481.7 L468.3,487.5 L393.3,531.7 Z" fill="#fff" stroke="#444" stroke-width="0.9"/>
<path d="M391.7,526.7 L393.3,531.7" stroke="#333" stroke-width="1.2"/>
<path d="M403.3,518.3 L468.3,481.7 M405,521.6 L468.3,485" stroke="#333" stroke-width="0.9"/>
<path d="M394,529 L414,517.6" stroke="#444" stroke-width="1.2" stroke-dasharray="1.4 1"/>
<path d="M430,500 L468,478.6" stroke="#222" stroke-width="1.6"/>
<path d="M461.1,572.4 L546,527" stroke="#444" stroke-width="0.9"/>
<path d="M462.6,576 L546,531.6" stroke="#444" stroke-width="0.9"/>
<path d="M478,563 L546,525.6" stroke="#444" stroke-width="0.9"/>
<path d="M479.4,567 L546,529.5" stroke="#444" stroke-width="0.9"/>
<path d="M461.5,573.8 L478.5,564.4" stroke="#222" stroke-width="2.4"/>
<path d="M420,507.5 L496.7,550 L490,555 L418.3,511.7 Z" fill="#fff" stroke="#333" stroke-width="1"/>
<path d="M496.7,550 L496.7,553 L490,557.6 L490,555" fill="#fff" stroke="#333" stroke-width="0.9"/>
<path d="M431.7,511.7 L445,508.3 L466.7,521.7 L480,541.7 L474,542.6 Z" fill="#fff" stroke="#333" stroke-width="0.9"/>
<path d="M445,508.3 L462,498 M466.7,521.7 L500,503" stroke="#444" stroke-width="0.8"/>
<path d="M468.3,520 L506.7,500 M473.3,526.7 L523,501.6 M481.7,536.7 L528.3,515 M483.3,540 L540,520" stroke="#444" stroke-width="0.9"/>
<path d="M536.7,513.3 L546,508.6 M531.6,515.6 L546,512" stroke="#444" stroke-width="0.9"/>
<path d="M506.7,500 L546,524 M490,553.3 L546,526.7 M492,557.4 L546,531" stroke="#444" stroke-width="0.9"/>
<path d="M500,476.7 L518.3,490 L535,508.3 L536.7,513.3 M498,480.6 L515,493.6 L530.6,511 L531.6,515.6" fill="none" stroke="#444" stroke-width="0.9"/>
<path d="M466,539.6 L472,538.2 L474,543.6 L468,545 Z" fill="#fff" stroke="#666" stroke-width="0.7"/>
<path d="M471.7,456.0 C469.8,455.6 464.1,453.9 460.0,453.6 C455.9,453.3 450.4,453.4 447.0,454.0 C443.6,454.6 441.1,456.2 439.5,457.5 C437.9,458.8 437.5,460.7 437.6,462.0 C437.7,463.3 438.9,464.6 440.0,465.2 C441.1,465.8 443.1,465.8 444.0,465.4 C444.9,465.0 444.6,463.2 445.6,462.6 C446.6,462.0 447.9,461.3 450.0,461.5 C452.1,461.7 455.5,462.5 458.0,464.0 C460.5,465.5 462.7,468.7 465.0,470.4 C467.3,472.1 470.6,473.4 471.7,474.0" fill="#fff" stroke="#333" stroke-width="1"/>
<path d="M439.5,459.5 C443,456.5 450,456.6 456,458 L471.7,461" fill="none" stroke="#555" stroke-width="0.8"/>
<path d="M438.6,462.6 L441.6,464.8" stroke="#333" stroke-width="1.6"/>
<path d="M498.5,456.0 C500.4,455.6 505.9,453.9 510.0,453.6 C514.1,453.3 519.6,453.4 523.0,454.0 C526.4,454.6 528.9,456.2 530.5,457.5 C532.1,458.8 532.5,460.7 532.4,462.0 C532.3,463.3 531.1,464.6 530.0,465.2 C528.9,465.8 526.9,465.8 526.0,465.4 C525.1,465.0 525.4,463.2 524.4,462.6 C523.4,462.0 522.1,461.3 520.0,461.5 C517.9,461.7 514.5,462.5 512.0,464.0 C509.5,465.5 507.2,468.7 505.0,470.4 C502.8,472.1 499.6,473.4 498.5,474.0" fill="#fff" stroke="#333" stroke-width="1"/>
<path d="M530.5,459.5 C527,456.5 520,456.6 514,458 L498.5,461" fill="none" stroke="#555" stroke-width="0.8"/>
<path d="M531.4,462.6 L528.4,464.8" stroke="#333" stroke-width="1.6"/>
<path d="M470.7,446.5 C469.3,445.5 465.1,443.1 462.1,440.7 C459.1,438.3 455.4,435.1 452.5,432.1 C449.6,429.1 447.1,425.5 444.9,422.5 C442.7,419.5 440.2,416.0 439.1,413.9 C438.0,411.8 438.0,411.2 438.2,410.1 C438.4,409.1 439.2,408.1 440.1,407.6 C441.1,407.1 442.8,406.9 443.9,407.2 C444.9,407.4 444.8,407.2 446.4,409.1 C448.0,411.0 450.9,415.2 453.5,418.7 C456.1,422.2 459.6,427.2 462.1,430.2 C464.7,433.2 466.9,435.1 468.8,436.9 C470.7,438.6 472.8,440.1 473.6,440.7" fill="#fff" stroke="#333" stroke-width="1"/>
<path d="M442,410 L449,420.5 L456.5,430.5 L465,438.6" fill="none" stroke="#555" stroke-width="0.8" stroke-dasharray="5 1.4"/>
<path d="M439,410.4 L442.6,408" stroke="#333" stroke-width="1.6"/>
<path d="M499.5,445.5 C500.9,444.6 505.1,442.2 508.1,439.8 C511.1,437.4 514.7,434.2 517.6,431.2 C520.5,428.2 523.1,424.6 525.3,421.6 C527.5,418.6 529.9,414.9 531.0,413.0 C532.1,411.1 532.1,410.9 532.0,410.1 C531.9,409.3 531.1,408.6 530.1,408.2 C529.1,407.8 527.4,407.5 526.3,407.6 C525.2,407.8 525.0,407.2 523.4,409.1 C521.8,411.0 519.2,415.4 516.7,418.7 C514.2,422.0 510.7,426.3 508.1,429.2 C505.6,432.1 503.3,434.2 501.4,436.0 C499.5,437.8 497.4,439.5 496.6,440.2" fill="#fff" stroke="#333" stroke-width="1"/>
<path d="M528.6,410 L521.4,420.5 L513.5,430.5 L505,438.4" fill="none" stroke="#555" stroke-width="0.8" stroke-dasharray="5 1.4"/>
<path d="M531.4,410.6 L527.8,408" stroke="#333" stroke-width="1.6"/>
<path d="M471.7,449 L471.7,481 L498.5,481 L498.5,449" fill="#fff" stroke="#333" stroke-width="1"/>
<path d="M478.4,456 L478.4,480 M490.8,456 L490.8,480" stroke="#555" stroke-width="0.8"/>
<path d="M471.7,456 C476,458 494,458 498.5,456" fill="none" stroke="#444" stroke-width="0.9"/>
<ellipse cx="485" cy="447.4" rx="14.6" ry="8.4" fill="#fff" stroke="#333" stroke-width="1.1"/>
<ellipse cx="485" cy="447" rx="10.6" ry="5.6" fill="#fff" stroke="#444" stroke-width="0.9"/>
<path d="M478.6,442.6 L478.6,452 M491.4,442.6 L491.4,452" stroke="#666" stroke-width="0.7"/>
<path d="M470.6,481 L470.6,486 C476,488.4 494,488.4 499.4,486 L499.4,481 C494,483.4 476,483.4 470.6,481 Z" fill="#fff" stroke="#333" stroke-width="1"/>
<path d="M471.7,486.6 L471.7,496 M498.5,486.6 L498.5,496" stroke="#333" stroke-width="1"/>
<path d="M471.7,493 C476,495.5 494,495.5 498.5,493 M471.7,495 C476,497.5 494,497.5 498.5,495" fill="none" stroke="#444" stroke-width="1"/>
<path d="M469.4,496.4 L469.4,502.6 L474,506.4 L484,507.6 L494,506.4 L499.6,502.6 L499.6,496.4 C494,499 476,499 469.4,496.4 Z" fill="#fff" stroke="#333" stroke-width="1"/>
<path d="M474,499 L474,506.4 M484,499.8 L484,507.6 M494,499 L494,506.4" stroke="#555" stroke-width="0.8"/>
</g>
<path d="M401.9,423.1 L401.9,404.8 L380,404.8 L380,449.4 L401.9,449.4 L401.9,441.3" fill="none" stroke="#444" stroke-width="1.1"/>
<path d="M401.9,423.1 L458.5,515.5 M401.9,441.3 L447,512" stroke="#444" stroke-width="0.9"/>
<ellipse cx="391" cy="411.9" rx="5.2" ry="2.9" fill="#fff" stroke="#222" stroke-width="1.6"/>
<ellipse cx="391" cy="411.6" rx="2.2" ry="1.2" fill="none" stroke="#555" stroke-width="0.7"/>
<path d="M389,414.6 L389,423.6 M393,414.6 L393,423.6" stroke="#555" stroke-width="0.8"/>
<path d="M391,423.8 L391,446" stroke="#111" stroke-width="4.2"/>
<path d="M355,423.7 L388.7,433.7" stroke="#444" stroke-width="0.9"/>
<text x="350" y="426.4" font-size="13.5" fill="#222" stroke="#222" stroke-width="0.3">I</text>
<text x="354.4" y="392.9" font-size="24" font-weight="bold" fill="#111">5</text>
</g>
</svg>
</body></html>
